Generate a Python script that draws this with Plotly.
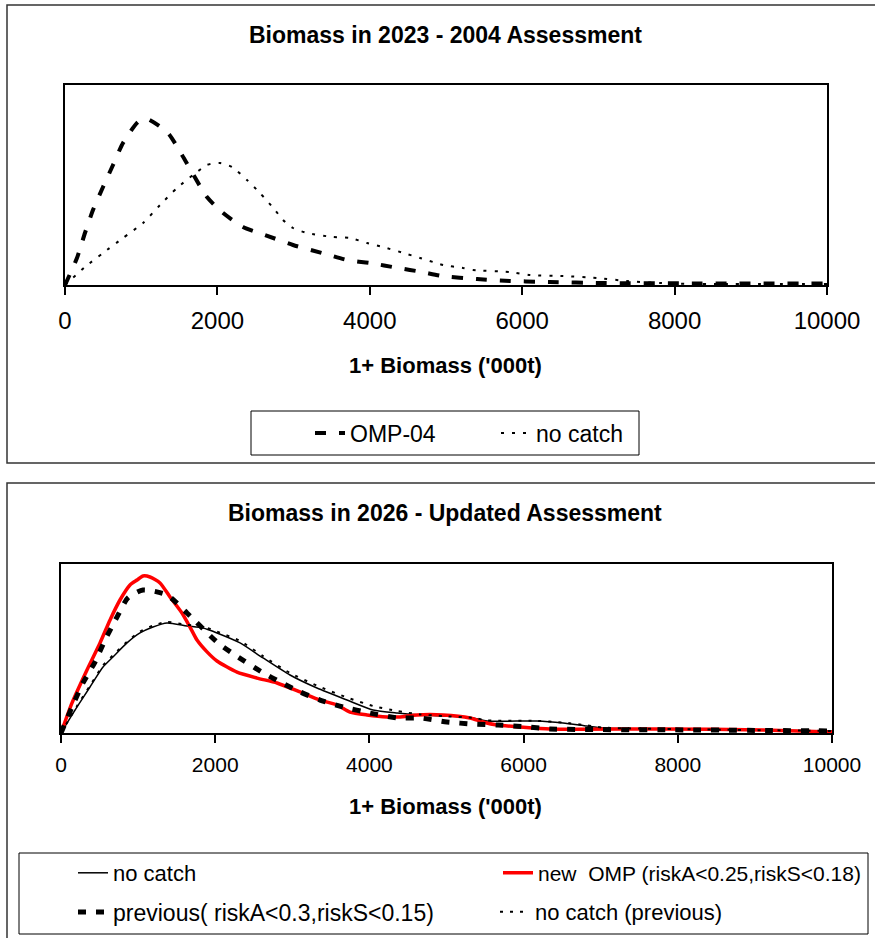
import plotly.graph_objects as go

W, H = 875, 938

# ---------------- data (y is relative density, 1 = top of plot area)
tick_vals = [0, 2000, 4000, 6000, 8000, 10000]
tick_text = ["0", "2000", "4000", "6000", "8000", "10000"]

# Top panel: Biomass in 2023 - 2004 Assessment
x_omp04 = [0, 157, 262, 367, 499, 630, 761, 958, 1076, 1352, 1535, 1863, 2060, 2336, 2625,
           2992, 3373, 3701, 4003, 4370, 4685, 4947, 5407, 5709, 6365, 7021, 8333, 10000]
y_omp04 = [0, 0.135, 0.26, 0.375, 0.49, 0.60, 0.71, 0.815, 0.83, 0.76, 0.65, 0.44, 0.365, 0.29, 0.25,
           0.20, 0.16, 0.125, 0.11, 0.085, 0.065, 0.045, 0.03, 0.022, 0.015, 0.01, 0.008, 0.008]

x_nocatch04 = [0, 262, 499, 761, 1024, 1247, 1470, 1680, 1863, 2034, 2192, 2388, 2559, 2756, 2861,
               2992, 3176, 3517, 3740, 3963, 4173, 4488, 4659, 4829, 4961, 5223, 5354, 5840, 6102,
               6535, 6981, 7375, 7808, 8333, 10000]
y_nocatch04 = [0, 0.09, 0.16, 0.235, 0.31, 0.40, 0.485, 0.55, 0.60, 0.61, 0.59, 0.525, 0.46, 0.375, 0.325,
               0.285, 0.26, 0.24, 0.235, 0.21, 0.19, 0.155, 0.135, 0.115, 0.10, 0.085, 0.075, 0.065, 0.05,
               0.045, 0.035, 0.02, 0.01, 0.005, 0.005]

# Bottom panel: Biomass in 2026 - Updated Assessment
x_nocatch = [0, 208, 376, 545, 674, 856, 1025, 1193, 1375, 1634, 1842, 2023, 2322, 2620, 2970,
             3320, 3709, 4047, 4358, 4656, 4955, 5344, 5525, 6174, 6511, 6822, 7030, 7808, 10000]
y_nocatch = [0, 0.154, 0.272, 0.39, 0.45, 0.533, 0.592, 0.627, 0.651, 0.633, 0.621, 0.592, 0.533, 0.444, 0.343,
             0.266, 0.195, 0.136, 0.118, 0.107, 0.101, 0.089, 0.071, 0.071, 0.059, 0.041, 0.030, 0.024, 0.012]

x_newomp = [0, 143, 337, 506, 636, 765, 895, 986, 1064, 1154, 1284, 1414, 1569, 1673, 1764, 1894,
            2023, 2283, 2542, 2802, 3100, 3359, 3580, 3748, 3969, 4228, 4397, 4617, 4955, 5305,
            5473, 5655, 5953, 6342, 7808, 9105, 10000]
y_newomp = [0, 0.178, 0.373, 0.533, 0.669, 0.787, 0.876, 0.905, 0.929, 0.923, 0.888, 0.805, 0.71, 0.627, 0.55, 0.48,
            0.426, 0.36, 0.325, 0.296, 0.243, 0.195, 0.166, 0.124, 0.107, 0.095, 0.095, 0.107, 0.107, 0.089,
            0.065, 0.047, 0.036, 0.024, 0.024, 0.018, 0.006]

x_previous = [0, 143, 285, 441, 571, 726, 869, 1064, 1375, 1634, 2036, 2296, 2607, 2866, 3100,
              3359, 3657, 4008, 4358, 4656, 5006, 5344, 5668, 6044, 6342, 8288, 10000]
y_previous = [0, 0.154, 0.296, 0.42, 0.55, 0.686, 0.80, 0.846, 0.817, 0.71, 0.533, 0.45, 0.36, 0.296, 0.243,
              0.195, 0.154, 0.118, 0.089, 0.089, 0.065, 0.053, 0.047, 0.036, 0.024, 0.018, 0.012]

x_nocatch_prev = [0, 208, 376, 545, 674, 856, 1025, 1193, 1375, 1634, 1842, 2023, 2322, 2620, 2970,
                  3320, 3709, 4047, 4358, 4656, 4955, 5344, 5525, 6174, 6511, 6822, 7030, 7808, 10000]
y_nocatch_prev = [0, 0.16, 0.28, 0.40, 0.46, 0.54, 0.60, 0.635, 0.657, 0.64, 0.63, 0.60, 0.545, 0.455, 0.355,
                  0.28, 0.21, 0.16, 0.13, 0.11, 0.10, 0.09, 0.075, 0.072, 0.062, 0.045, 0.032, 0.024, 0.012]

# ---------------- helpers
def px(x):
    return x / W

def py(y):
    return 1 - y / H

FONT = "Liberation Sans, Arial, sans-serif"

fig = go.Figure()

# top panel
fig.add_trace(go.Scatter(x=x_omp04, y=y_omp04, name="OMP-04", mode="lines",
                         line=dict(color="black", width=4, dash="11px,13px", shape="spline", smoothing=0.6),
                         xaxis="x", yaxis="y", legend="legend"))
fig.add_trace(go.Scatter(x=x_nocatch04, y=y_nocatch04, name="no catch", mode="lines",
                         line=dict(color="black", width=2, dash="3px,8px", shape="spline", smoothing=0.6),
                         xaxis="x", yaxis="y", legend="legend"))

# bottom panel
fig.add_trace(go.Scatter(x=x_nocatch, y=y_nocatch, name="no catch", mode="lines",
                         line=dict(color="black", width=1.5, shape="spline", smoothing=0.6),
                         xaxis="x2", yaxis="y2", legend="legend2"))
fig.add_trace(go.Scatter(x=x_newomp, y=y_newomp, name="new  OMP (riskA<0.25,riskS<0.18)", mode="lines",
                         line=dict(color="#ff0000", width=3.5, shape="spline", smoothing=0.6),
                         xaxis="x2", yaxis="y2", legend="legend3"))
fig.add_trace(go.Scatter(x=x_previous, y=y_previous, name="previous( riskA<0.3,riskS<0.15)", mode="lines",
                         line=dict(color="black", width=5, dash="8px,10px", shape="spline", smoothing=0.6),
                         xaxis="x2", yaxis="y2", legend="legend4"))
fig.add_trace(go.Scatter(x=x_nocatch_prev, y=y_nocatch_prev, name="no catch (previous)", mode="lines",
                         line=dict(color="black", width=2, dash="3px,7px", shape="spline", smoothing=0.6),
                         xaxis="x2", yaxis="y2", legend="legend5"))

axis_common = dict(showgrid=False, zeroline=False, showline=True, linecolor="black", mirror=True)


def small_legend(xpix, ypix, size):
    return dict(orientation="h", x=px(xpix), y=py(ypix), xanchor="left", yanchor="middle",
                bgcolor="rgba(0,0,0,0)", borderwidth=0,
                font=dict(size=size, family=FONT, color="black"), itemwidth=30)


top_leg = small_legend(310, 433, 23)
top_leg.update(entrywidth=141, entrywidthmode="pixels")

fig.update_layout(
    width=W, height=H, margin=dict(l=0, r=0, t=0, b=0, autoexpand=False), autosize=False,
    paper_bgcolor="white", plot_bgcolor="white",
    font=dict(family=FONT, color="black"),
    xaxis=dict(domain=[px(65), px(827)], range=[0, 10000], anchor="y",
               tickvals=tick_vals, ticktext=tick_text, ticks="outside", ticklen=8, tickwidth=1.5,
               tickcolor="black", tickfont=dict(size=24, family=FONT, color="black"),
               ticklabelstandoff=5, linewidth=2, automargin=False, **axis_common),
    yaxis=dict(domain=[py(285), py(85)], range=[0, 1], anchor="x", showticklabels=False, ticks="",
               linewidth=2, automargin=False, **axis_common),
    xaxis2=dict(domain=[px(61), px(832)], range=[0, 10000], anchor="y2",
                tickvals=tick_vals, ticktext=tick_text, ticks="outside", ticklen=8, tickwidth=1.5,
                tickcolor="black", tickfont=dict(size=21, family=FONT, color="black"),
                ticklabelstandoff=4, linewidth=2, automargin=False, **axis_common),
    yaxis2=dict(domain=[py(733), py(564)], range=[0, 1], anchor="x2", showticklabels=False, ticks="",
                linewidth=2, automargin=False, **axis_common),
    legend=top_leg,
    legend2=small_legend(73, 873, 22),
    legend3=small_legend(498, 873, 21),
    legend4=small_legend(73, 912, 23),
    legend5=small_legend(495, 912, 22),
    showlegend=True,
)

# titles and axis titles
ann = [
    dict(text="<b>Biomass in 2023 - 2004 Assessment</b>", x=px(446), y=py(35), size=23),
    dict(text="<b>1+ Biomass ('000t)</b>", x=px(446), y=py(366), size=22),
    dict(text="<b>Biomass in 2026 - Updated Assessment</b>", x=px(445), y=py(513), size=23),
    dict(text="<b>1+ Biomass ('000t)</b>", x=px(446), y=py(806), size=22),
]
for a in ann:
    fig.add_annotation(text=a["text"], x=a["x"], y=a["y"], xref="paper", yref="paper",
                       xanchor="center", yanchor="middle", showarrow=False,
                       font=dict(size=a["size"], family=FONT, color="black"))

# outer frames and legend boxes
frame = dict(color="#333333", width=1.5)
fig.add_shape(type="rect", xref="paper", yref="paper", x0=px(7), x1=1.02, y0=py(463), y1=py(5), line=frame)
fig.add_shape(type="rect", xref="paper", yref="paper", x0=px(7), x1=1.02, y0=-0.02, y1=py(483), line=frame)
box = dict(color="black", width=1)
fig.add_shape(type="rect", xref="paper", yref="paper", x0=px(251), x1=px(639), y0=py(455), y1=py(411), line=box)
fig.add_shape(type="rect", xref="paper", yref="paper", x0=px(19), x1=px(868), y0=py(934), y1=py(853), line=box)

fig.write_html("out.html", config={"displayModeBar": False}, post_script=(
    "document.documentElement.style.margin='0';document.body.style.margin='0';"
    "document.documentElement.style.overflow='hidden';document.body.style.overflow='hidden';"))
